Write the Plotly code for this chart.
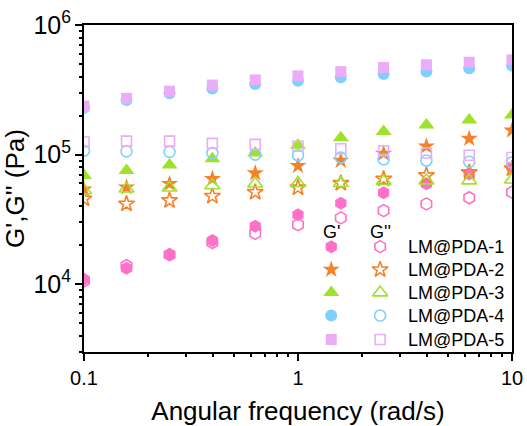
import math
import plotly.graph_objects as go

# ---- data ----
freq = [0.1, 0.158, 0.251, 0.398, 0.631, 1.0, 1.585, 2.512, 3.981, 6.31, 10.0]

samples = ["LM@PDA-1", "LM@PDA-2", "LM@PDA-3", "LM@PDA-4", "LM@PDA-5"]

G1_storage = [1.09e4, 1.33e4, 1.69e4, 2.17e4, 2.8e4, 3.44e4, 4.21e4, 5.07e4, 5.96e4, 7.1e4, 8.0e4]
G1_loss = [1.06e4, 1.39e4, 1.69e4, 2.1e4, 2.47e4, 2.88e4, 3.25e4, 3.7e4, 4.17e4, 4.65e4, 5.13e4]
G2_storage = [5.4e4, 5.6e4, 5.96e4, 6.5e4, 7.2e4, 8.2e4, 9.0e4, 1.02e5, 1.16e5, 1.33e5, 1.54e5]
G2_loss = [4.56e4, 4.17e4, 4.43e4, 4.78e4, 5.13e4, 5.55e4, 6.02e4, 6.5e4, 6.9e4, 7.3e4, 7.8e4]
G3_storage = [6.9e4, 7.55e4, 8.3e4, 9.3e4, 1.03e5, 1.18e5, 1.35e5, 1.51e5, 1.69e5, 1.85e5, 2.02e5]
G3_loss = [5.28e4, 5.45e4, 5.55e4, 5.78e4, 5.96e4, 6.02e4, 6.02e4, 6.24e4, 6.3e4, 6.3e4, 6.4e4]
G4_storage = [2.3e5, 2.64e5, 2.97e5, 3.24e5, 3.51e5, 3.72e5, 3.95e5, 4.19e5, 4.37e5, 4.64e5, 4.87e5]
G4_loss = [1.07e5, 1.06e5, 1.05e5, 1.03e5, 1.0e5, 9.9e4, 9.5e4, 9.2e4, 9.0e4, 8.8e4, 8.7e4]
G5_storage = [2.37e5, 2.72e5, 3.09e5, 3.44e5, 3.77e5, 4.05e5, 4.37e5, 4.7e5, 4.93e5, 5.16e5, 5.38e5]
G5_loss = [1.25e5, 1.27e5, 1.27e5, 1.22e5, 1.2e5, 1.16e5, 1.11e5, 1.07e5, 1.03e5, 9.9e4, 9.5e4]

storage = [G1_storage, G2_storage, G3_storage, G4_storage, G5_storage]
loss = [G1_loss, G2_loss, G3_loss, G4_loss, G5_loss]

# minor tick values (2..9 in each decade)
x_minor = [m * 10.0 ** e for e in (-1, 0) for m in range(2, 10)]
y_minor = [m * 10.0 ** e for e in (3, 4, 5) for m in range(2, 10) if m * 10.0 ** e >= 3000]

colors = ["#ff70c8", "#f5822a", "#9de22b", "#80d0ff", "#e9aef7"]
symbols = ["hexagon", "star", "triangle-up", "circle", "square"]
sizes = [13, 13, 14, 12, 11]

FONT = "Arial"

fig = go.Figure()

for i in range(5):
    fig.add_trace(go.Scatter(
        x=freq, y=storage[i], mode="markers", showlegend=False,
        marker=dict(symbol=symbols[i], size=sizes[i], color=colors[i],
                    line=dict(width=0)),
    ))
    fig.add_trace(go.Scatter(
        x=freq, y=loss[i], mode="markers", showlegend=False,
        marker=dict(symbol=symbols[i] + "-open", size=sizes[i] - 1, color=colors[i],
                    line=dict(width=1.6, color=colors[i])),
    ))

# invisible trace so the minor-tick overlay axes are drawn
fig.add_trace(go.Scatter(x=[1], y=[1e5], xaxis="x3", yaxis="y3", mode="markers",
                         marker=dict(opacity=0), showlegend=False, hoverinfo="skip"))

# ---- custom two-column legend placed in data space (log axes) ----
leg_x1, leg_x2, leg_xl = 1.43, 2.42, 3.20
leg_rows = [1.95e4, 1.296e4, 8.62e3, 5.73e3, 3.745e3]
leg_head = 2.54e4
for i in range(5):
    fig.add_trace(go.Scatter(
        x=[leg_x1], y=[leg_rows[i]], mode="markers", showlegend=False, hoverinfo="skip",
        marker=dict(symbol=symbols[i], size=sizes[i], color=colors[i], line=dict(width=0)),
    ))
    fig.add_trace(go.Scatter(
        x=[leg_x2], y=[leg_rows[i]], mode="markers", showlegend=False, hoverinfo="skip",
        marker=dict(symbol=symbols[i] + "-open", size=sizes[i] - 1, color=colors[i],
                    line=dict(width=1.6, color=colors[i])),
    ))

lg = math.log10
annotations = [
    dict(x=lg(leg_x1), y=lg(leg_head), xref="x", yref="y", text="G'", showarrow=False,
         font=dict(family=FONT, size=18, color="black"), xanchor="center", yanchor="middle"),
    dict(x=lg(leg_x2), y=lg(leg_head), xref="x", yref="y", text="G''", showarrow=False,
         font=dict(family=FONT, size=18, color="black"), xanchor="center", yanchor="middle"),
]
for i in range(5):
    annotations.append(dict(x=lg(leg_xl), y=lg(leg_rows[i]), xref="x", yref="y", text=samples[i],
                            showarrow=False, xanchor="left", yanchor="middle",
                            font=dict(family=FONT, size=18, color="black")))

fig.update_layout(
    width=527, height=426, showlegend=False,
    margin=dict(l=83.5, r=15, t=25, b=73.5, autoexpand=False),
    plot_bgcolor="white",
    xaxis=dict(type="log", range=[-1, 1], dtick=1,
               ticks="outside", ticklen=7, tickwidth=2, tickcolor="black",
               showline=True, linecolor="black", linewidth=2, mirror=True,
               tickfont=dict(family=FONT, size=20, color="black"),
               title=dict(text="Angular frequency (rad/s)",
                          font=dict(family=FONT, size=26, color="black"), standoff=14)),
    yaxis=dict(type="log", range=[3.4771, 6], dtick=1, exponentformat="power",
               ticks="outside", ticklen=7, tickwidth=2, tickcolor="black",
               showline=True, linecolor="black", linewidth=2, mirror=True,
               tickfont=dict(family=FONT, size=20, color="black"),
               title=dict(text="G',G'' (Pa)",
                          font=dict(family=FONT, size=26, color="black"), standoff=2)),
    xaxis3=dict(overlaying="x", type="log", range=[-1, 1], anchor="y3", tickmode="array",
                tickvals=x_minor, ticks="outside", ticklen=4, tickwidth=1.5, tickcolor="black",
                showticklabels=False, showgrid=False),
    yaxis3=dict(overlaying="y", type="log", range=[3.4771, 6], anchor="x3", tickmode="array",
                tickvals=y_minor, ticks="outside", ticklen=4, tickwidth=1.5, tickcolor="black",
                showticklabels=False, showgrid=False),
    annotations=annotations,
)

fig.write_html("out.html")
